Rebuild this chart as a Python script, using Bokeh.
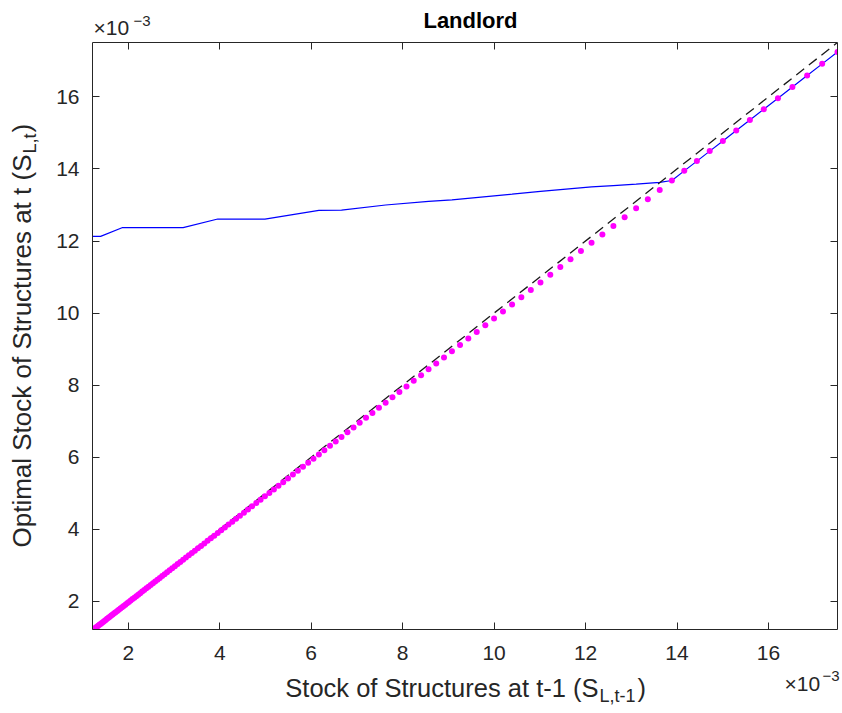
import math
from bokeh.plotting import figure
from bokeh.layouts import row, column
from bokeh.models import LinearAxis, FixedTicker, Label, Range1d, CustomJSTickFormatter
from bokeh.embed import file_html
from bokeh.resources import INLINE

# All values in units of 1e-3 (axes show "x10^-3")
stock_prev = [1.217, 1.241, 1.265, 1.290, 1.315, 1.341, 1.367, 1.394, 1.421, 1.449, 1.477, 1.506, 1.535,
              1.565, 1.596, 1.627, 1.659, 1.691, 1.724, 1.758, 1.792, 1.827, 1.863, 1.899, 1.936, 1.974,
              2.013, 2.052, 2.092, 2.133, 2.175, 2.217, 2.260, 2.304, 2.349, 2.395, 2.442, 2.490, 2.539,
              2.588, 2.638, 2.689, 2.741, 2.794, 2.848, 2.904, 2.961, 3.019, 3.078, 3.138, 3.199, 3.261,
              3.325, 3.390, 3.456, 3.523, 3.592, 3.662, 3.733, 3.806, 3.880, 3.956, 4.033, 4.112, 4.192,
              4.274, 4.357, 4.442, 4.529, 4.617, 4.707, 4.799, 4.893, 4.988, 5.085, 5.184, 5.285, 5.388,
              5.493, 5.600, 5.709, 5.820, 5.934, 6.050, 6.168, 6.288, 6.411, 6.536, 6.663, 6.793, 6.926,
              7.061, 7.199, 7.339, 7.482, 7.628, 7.777, 7.929, 8.084, 8.242, 8.403, 8.567, 8.734, 8.904,
              9.078, 9.255, 9.436, 9.620, 9.808, 9.999, 10.194, 10.393, 10.596, 10.803, 11.014, 11.229,
              11.448, 11.671, 11.899, 12.131, 12.368, 12.609, 12.855, 13.106, 13.362, 13.622, 13.888,
              14.159, 14.435, 14.716, 15.003, 15.296, 15.594, 15.898, 16.208, 16.524, 16.846, 17.175, 17.510]

no_invest = [1.199, 1.222, 1.246, 1.271, 1.295, 1.321, 1.346, 1.373, 1.400, 1.427, 1.455, 1.483, 1.512,
             1.542, 1.572, 1.603, 1.634, 1.666, 1.698, 1.732, 1.765, 1.800, 1.835, 1.871, 1.907, 1.944,
             1.983, 2.021, 2.061, 2.101, 2.142, 2.184, 2.226, 2.269, 2.314, 2.359, 2.405, 2.453, 2.501,
             2.549, 2.598, 2.649, 2.700, 2.752, 2.805, 2.860, 2.917, 2.974, 3.032, 3.091, 3.151, 3.212,
             3.275, 3.339, 3.404, 3.470, 3.538, 3.607, 3.677, 3.749, 3.822, 3.897, 3.973, 4.050, 4.129,
             4.210, 4.292, 4.375, 4.461, 4.548, 4.636, 4.727, 4.820, 4.913, 5.009, 5.106, 5.206, 5.307,
             5.411, 5.516, 5.623, 5.733, 5.845, 5.959, 6.075, 6.194, 6.315, 6.438, 6.563, 6.691, 6.822,
             6.955, 7.091, 7.229, 7.370, 7.514, 7.660, 7.810, 7.963, 8.118, 8.277, 8.438, 8.603, 8.770,
             8.942, 9.116, 9.294, 9.476, 9.661, 9.849, 10.041, 10.237, 10.437, 10.641, 10.849, 11.061,
             11.276, 11.496, 11.721, 11.949, 12.182, 12.420, 12.662, 12.909, 13.162, 13.418, 13.680,
             13.947, 14.218, 14.495, 14.778, 15.067, 15.360, 15.660, 15.965, 16.276, 16.593, 16.917, 17.247]

policy_x = [1.217, 1.394, 1.863, 3.199, 3.956, 4.988, 6.168, 6.663, 7.628, 8.567, 9.078, 10.393, 11.014,
            12.131, 12.609, 13.106, 13.622, 13.888, 14.159, 14.435, 14.716, 15.003, 15.296, 15.594,
            15.898, 16.208, 16.524, 16.846, 17.175, 17.510]
policy_y = [12.13, 12.13, 12.37, 12.37, 12.61, 12.61, 12.85, 12.86, 13.00, 13.10, 13.14, 13.30, 13.38,
            13.50, 13.54, 13.58, 13.63, 13.680, 13.947, 14.218, 14.495, 14.778, 15.067, 15.360,
            15.660, 15.965, 16.276, 16.593, 16.917, 17.247]

diag_vals = [1.217, 17.510]
tick_vals = [2, 4, 6, 8, 10, 12, 14, 16]

FONT = "Liberation Sans"
DARK = "#262626"

# strip sizes (px)
LEFT_W = 45
MAIN_W = 797
TOP_H = 39
MAIN_H = 628
BOT_H = 45
TOTAL_H = TOP_H + MAIN_H + BOT_H

p = figure(width=MAIN_W, height=MAIN_H, output_backend="svg", toolbar_location=None,
           x_range=Range1d(1.217, 17.51), y_range=Range1d(1.217, 17.51),
           min_border_left=47, min_border_right=5, min_border_top=3, min_border_bottom=38,
           frame_align=False)
p.xgrid.visible = False
p.ygrid.visible = False
p.outline_line_color = None
p.background_fill_color = "white"
p.border_fill_color = "white"


def style(ax, labels=True, standoff=11):
    ax.ticker = FixedTicker(ticks=tick_vals)
    ax.major_tick_in = 7
    ax.major_tick_out = 0
    ax.minor_tick_in = 0
    ax.minor_tick_out = 0
    ax.axis_line_color = DARK
    ax.axis_line_width = 1
    ax.major_tick_line_color = DARK
    ax.major_tick_line_width = 1
    ax.major_label_text_font = FONT
    ax.major_label_text_color = DARK
    if labels:
        ax.major_label_text_font_size = "21px"
        ax.major_label_standoff = standoff
    else:
        ax.formatter = CustomJSTickFormatter(code="return ''")
        ax.major_label_text_font_size = "1px"
        ax.major_label_standoff = 0


style(p.xaxis[0], standoff=16)
style(p.yaxis[0], standoff=13)
top_ax = LinearAxis()
right_ax = LinearAxis()
style(top_ax, labels=False)
style(right_ax, labels=False)
p.add_layout(top_ax, "above")
p.add_layout(right_ax, "right")

p.line(policy_x, policy_y, line_color="#0000ff", line_width=1.2)
p.line(diag_vals, diag_vals, line_color="#1a1a1a", line_dash="10 6", line_width=1.3)
p.scatter(stock_prev, no_invest, marker="circle", size=6, fill_color="#ff00ff", line_color=None)


def strip(w, h):
    f = figure(width=w, height=h, output_backend="svg", toolbar_location=None,
               x_range=Range1d(0, w), y_range=Range1d(0, h),
               x_axis_location=None, y_axis_location=None, min_border=0,
               frame_align=False)
    f.grid.visible = False
    f.outline_line_color = None
    f.background_fill_color = "white"
    f.border_fill_color = "white"
    return f


SHIFT = 0.36  # measured baseline offset of Label text (in em), compensated below


def lab(f, x, y, text, size, align="left", angle=0.0, bold=False):
    if angle == 0.0:
        y = y + SHIFT * size
    else:
        x = x - SHIFT * size
    f.add_layout(Label(x=x, y=y, x_units="screen", y_units="screen", text=text,
                       text_font=FONT, text_font_size=f"{size}px",
                       text_color="#000000" if bold else DARK,
                       text_align=align, text_baseline="alphabetic", angle=angle,
                       text_font_style="bold" if bold else "normal"))


# top strip: title and x10^-3 multiplier of the y axis  (page y -> TOP_H - y)
tf = strip(MAIN_W, TOP_H)
lab(tf, 470 - LEFT_W, TOP_H - 28, "Landlord", 22, align="center", bold=True)
lab(tf, 93 - LEFT_W, TOP_H - 35, "\u00d710", 21)
lab(tf, 133 - LEFT_W, TOP_H - 26, "\u22123", 15)

# bottom strip: x label and x10^-3 multiplier of the x axis  (page y -> TOTAL_H - y)
bf = strip(MAIN_W, BOT_H)
lab(bf, 598 - LEFT_W, TOTAL_H - 697, "Stock of Structures at t-1 (S", 25.5, align="right")
lab(bf, 599 - LEFT_W, TOTAL_H - 702, "L,t-1", 18)
lab(bf, 637 - LEFT_W, TOTAL_H - 697, ")", 25.5)
lab(bf, 784 - LEFT_W, TOTAL_H - 691, "\u00d710", 21)
lab(bf, 822 - LEFT_W, TOTAL_H - 681, "\u22123", 15)

# left strip: rotated y label (page x, TOTAL_H - page y)
lf = strip(LEFT_W, TOTAL_H)
R = math.pi / 2
YJ = 154  # page y where the subscript starts
lab(lf, 31, TOTAL_H - YJ, "Optimal Stock of Structures at t (S", 26, align="right", angle=R)
lab(lf, 36, TOTAL_H - YJ + 1, "L,t", 18, angle=R)
lab(lf, 31, TOTAL_H - YJ + 22, ")", 26, angle=R)

layout = row(lf, column(tf, p, bf, spacing=0), spacing=0)

open("out.html", "w").write(file_html(layout, INLINE))
